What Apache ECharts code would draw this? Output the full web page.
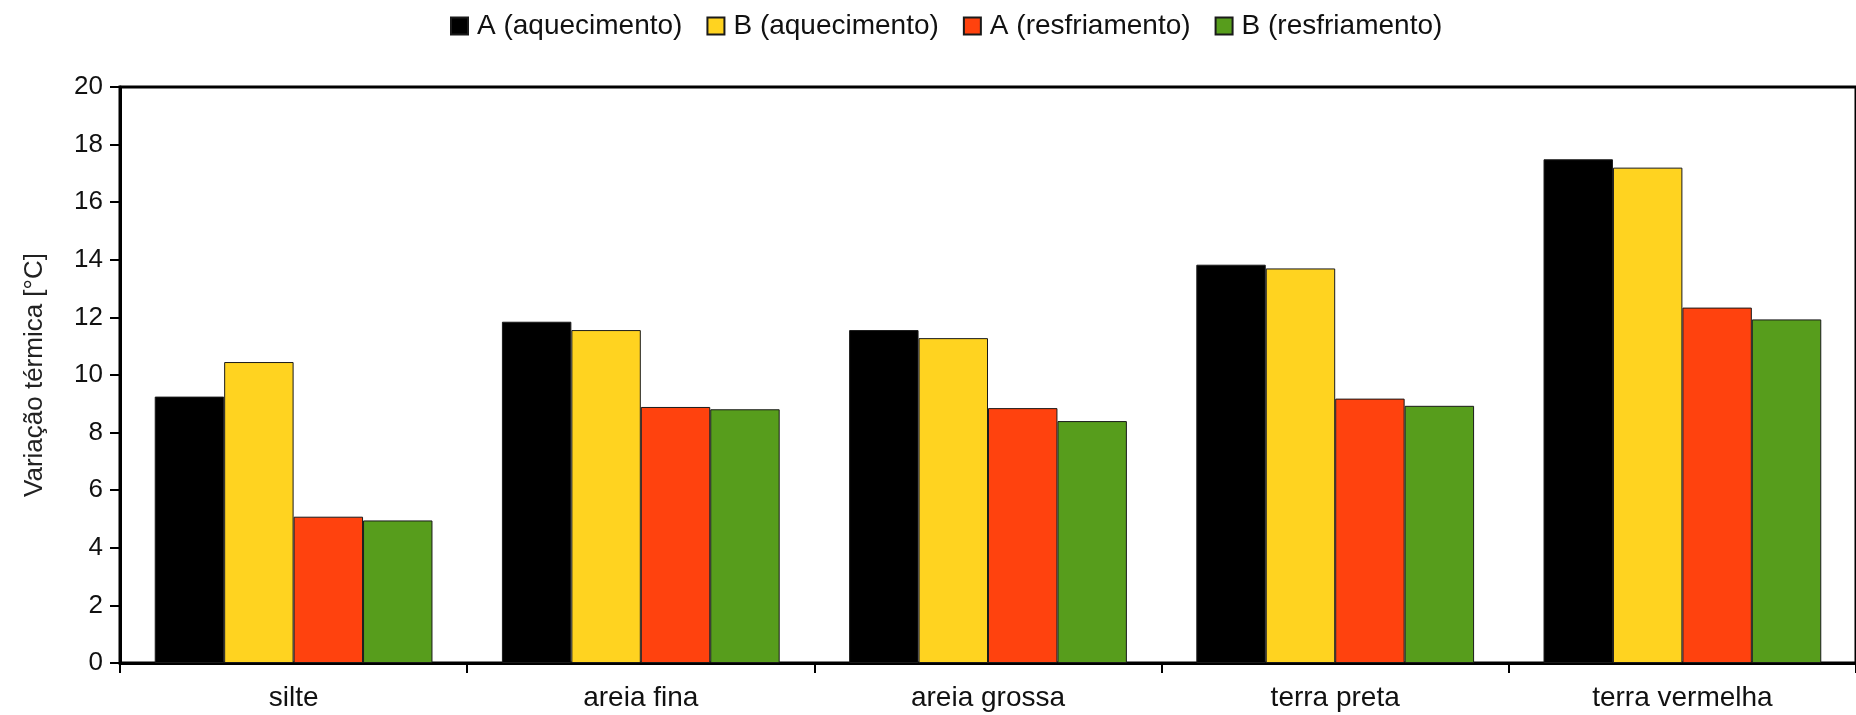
<!DOCTYPE html>
<html>
<head>
<meta charset="utf-8">
<script src="https://cdn.jsdelivr.net/npm/echarts@6/dist/echarts.min.js"></script>
<style>
  html, body { margin: 0; padding: 0; background: #fff; }
  #chart { width: 1856px; height: 715px; }
</style>
</head>
<body>
<div id="chart"></div>
<script>
var solos = ['silte', 'areia fina', 'areia grossa', 'terra preta', 'terra vermelha']
var aAquec = [9.25, 11.85, 11.56, 13.83, 17.49]
var bAquec = [10.45, 11.56, 11.28, 13.70, 17.20]
var aResfr = [5.08, 8.89, 8.85, 9.18, 12.34]
var bResfr = [4.95, 8.81, 8.40, 8.93, 11.93]

var fonte = '"Liberation Sans", Arial, sans-serif'

function barra(nome, dados, cor) {
    return {
        name: nome,
        type: 'bar',
        data: dados,
        barGap: 0,
        barCategoryGap: '20%',
        itemStyle: { color: cor, borderColor: '#1a1a1a', borderWidth: 1 }
    }
}

var option = {
    backgroundColor: '#fff',
    animation: false,
    textStyle: { fontFamily: fonte },
    legend: {
        left: 445,
        top: 7,
        itemWidth: 17,
        itemHeight: 17,
        itemGap: 24,
        icon: 'rect',
        textStyle: { fontSize: 28, color: '#111', fontFamily: fonte, padding: [0, 0, 0, 4] }
    },
    grid: {
        left: 120,
        right: -7,
        top: 87,
        bottom: 52,
        show: true,
        borderWidth: 3,
        borderColor: '#000'
    },
    xAxis: {
        type: 'category',
        data: solos,
        axisLine: { lineStyle: { color: '#000', width: 3 } },
        axisTick: { show: true, length: 10, lineStyle: { color: '#000', width: 2 } },
        axisLabel: { fontSize: 28, color: '#111', margin: 21, fontFamily: fonte }
    },
    yAxis: {
        type: 'value',
        min: 0,
        max: 20,
        interval: 2,
        name: 'Variação térmica [°C]',
        nameLocation: 'middle',
        nameGap: 72,
        nameTextStyle: { fontSize: 26, color: '#222', fontFamily: fonte },
        splitLine: { show: false },
        axisLine: { show: true, lineStyle: { color: '#000', width: 3 } },
        axisTick: { show: true, length: 10, lineStyle: { color: '#000', width: 2 } },
        axisLabel: { fontSize: 26, color: '#111', margin: 17, fontFamily: fonte }
    },
    series: [
        barra('A (aquecimento)', aAquec, '#000000'),
        barra('B (aquecimento)', bAquec, '#ffd320'),
        barra('A (resfriamento)', aResfr, '#ff420e'),
        barra('B (resfriamento)', bResfr, '#579d1c')
    ]
}

var myChart = echarts.init(document.getElementById('chart'))
myChart.setOption(option)
</script>
</body>
</html>
